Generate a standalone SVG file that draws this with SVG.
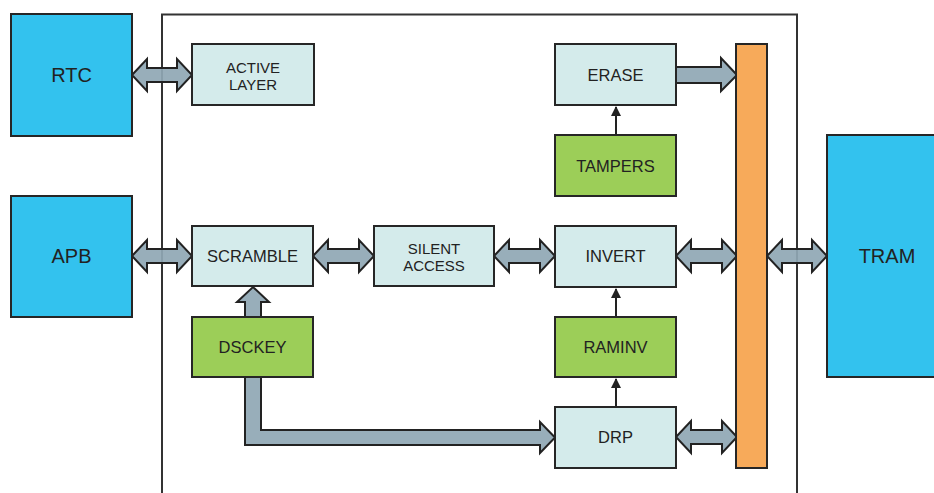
<svg xmlns="http://www.w3.org/2000/svg" width="934" height="493" viewBox="0 0 934 493">
<style>
.box{stroke:#262626;stroke-width:2}
.ext{fill:#33C2EE}
.blk{fill:#D4EBEB}
.grn{fill:#9CCE58}
.bus{fill:#F7AA5A}
.arr{fill:#8FA7B4;fill-opacity:0.92;stroke:#222;stroke-width:2;stroke-linejoin:miter}
.thin{stroke:#222;stroke-width:2;fill:none}
text{font-family:"Liberation Sans",Arial,sans-serif;fill:#222;text-anchor:middle}
.t{font-size:16.5px}
.t2{font-size:15px}
.tb{font-size:20px}
</style>
<defs>
<marker id="ah" markerWidth="10" markerHeight="10" refX="9" refY="5" orient="auto" markerUnits="userSpaceOnUse">
<path d="M0,0 L10,5 L0,10 Z" fill="#222"/>
</marker>
</defs>
<rect x="162" y="14.5" width="635" height="490" fill="none" stroke="#333" stroke-width="2"/>
<g id="connectors">
<path class="arr" d="M132,75 L147,59 L147,68 L177,68 L177,59 L192,75 L177,91 L177,82 L147,82 L147,91 Z"/>
<path class="arr" d="M132,256 L147,240 L147,249 L177,249 L177,240 L192,256 L177,272 L177,263 L147,263 L147,272 Z"/>
<path class="arr" d="M313,256 L328,240 L328,249 L359,249 L359,240 L374,256 L359,272 L359,263 L328,263 L328,272 Z"/>
<path class="arr" d="M494,256 L509,240 L509,249 L540,249 L540,240 L555,256 L540,272 L540,263 L509,263 L509,272 Z"/>
<path class="arr" d="M676,256 L691,240 L691,249 L722,249 L722,240 L737,256 L722,272 L722,263 L691,263 L691,272 Z"/>
<path class="arr" d="M767,256 L782,240 L782,249 L812,249 L812,240 L827,256 L812,272 L812,263 L782,263 L782,272 Z"/>
<path class="arr" d="M676,437 L691,421 L691,430 L722,430 L722,421 L737,437 L722,453 L722,444 L691,444 L691,453 Z"/>
<path class="arr" d="M676,67 L721,67 L721,58 L737,75 L721,91 L721,83 L676,83 Z"/>
<path class="arr" d="M245,318 L245,302 L237,302 L253,287 L269,302 L261,302 L261,318 Z"/>
<path class="arr" d="M245,376 L245,445 L540,445 L540,453 L555,437.5 L540,422 L540,430 L261,430 L261,376 Z"/>
<line class="thin" x1="616" y1="135" x2="616" y2="107" marker-end="url(#ah)"/>
<line class="thin" x1="616" y1="317" x2="616" y2="289" marker-end="url(#ah)"/>
<line class="thin" x1="616" y1="407" x2="616" y2="379" marker-end="url(#ah)"/>
</g>
<g id="rtc"><rect class="box ext" x="11" y="14" width="121" height="122"/><text class="tb" x="71.5" y="82">RTC</text></g>
<g id="apb"><rect class="box ext" x="11" y="196" width="121" height="121"/><text class="tb" x="71.5" y="263">APB</text></g>
<g id="tram"><rect class="box ext" x="827" y="135" width="130" height="242"/><text class="tb" x="887" y="263">TRAM</text></g>
<g id="active-layer"><rect class="box blk" x="192" y="44" width="122" height="61"/><text class="t2" x="253" y="73">ACTIVE</text><text class="t2" x="253" y="90">LAYER</text></g>
<g id="scramble"><rect class="box blk" x="192" y="226" width="121" height="60"/><text class="t" x="252.5" y="262">SCRAMBLE</text></g>
<g id="silent-access"><rect class="box blk" x="374" y="226" width="120" height="60"/><text class="t2" x="434" y="254">SILENT</text><text class="t2" x="434" y="271">ACCESS</text></g>
<g id="dsckey"><rect class="box grn" x="192" y="317" width="121" height="60"/><text class="t" x="252.5" y="353">DSCKEY</text></g>
<g id="erase"><rect class="box blk" x="555" y="44" width="121" height="61"/><text class="t" x="615.5" y="81">ERASE</text></g>
<g id="tampers"><rect class="box grn" x="555" y="135" width="121" height="61"/><text class="t" x="615.5" y="172">TAMPERS</text></g>
<g id="invert"><rect class="box blk" x="555" y="226" width="121" height="61"/><text class="t" x="615.5" y="262">INVERT</text></g>
<g id="raminv"><rect class="box grn" x="555" y="317" width="121" height="60"/><text class="t" x="615.5" y="353">RAMINV</text></g>
<g id="drp"><rect class="box blk" x="555" y="407" width="121" height="61"/><text class="t" x="615.5" y="443">DRP</text></g>
<g id="bus"><rect class="box bus" x="736" y="44" width="31" height="424"/></g>
</svg>
